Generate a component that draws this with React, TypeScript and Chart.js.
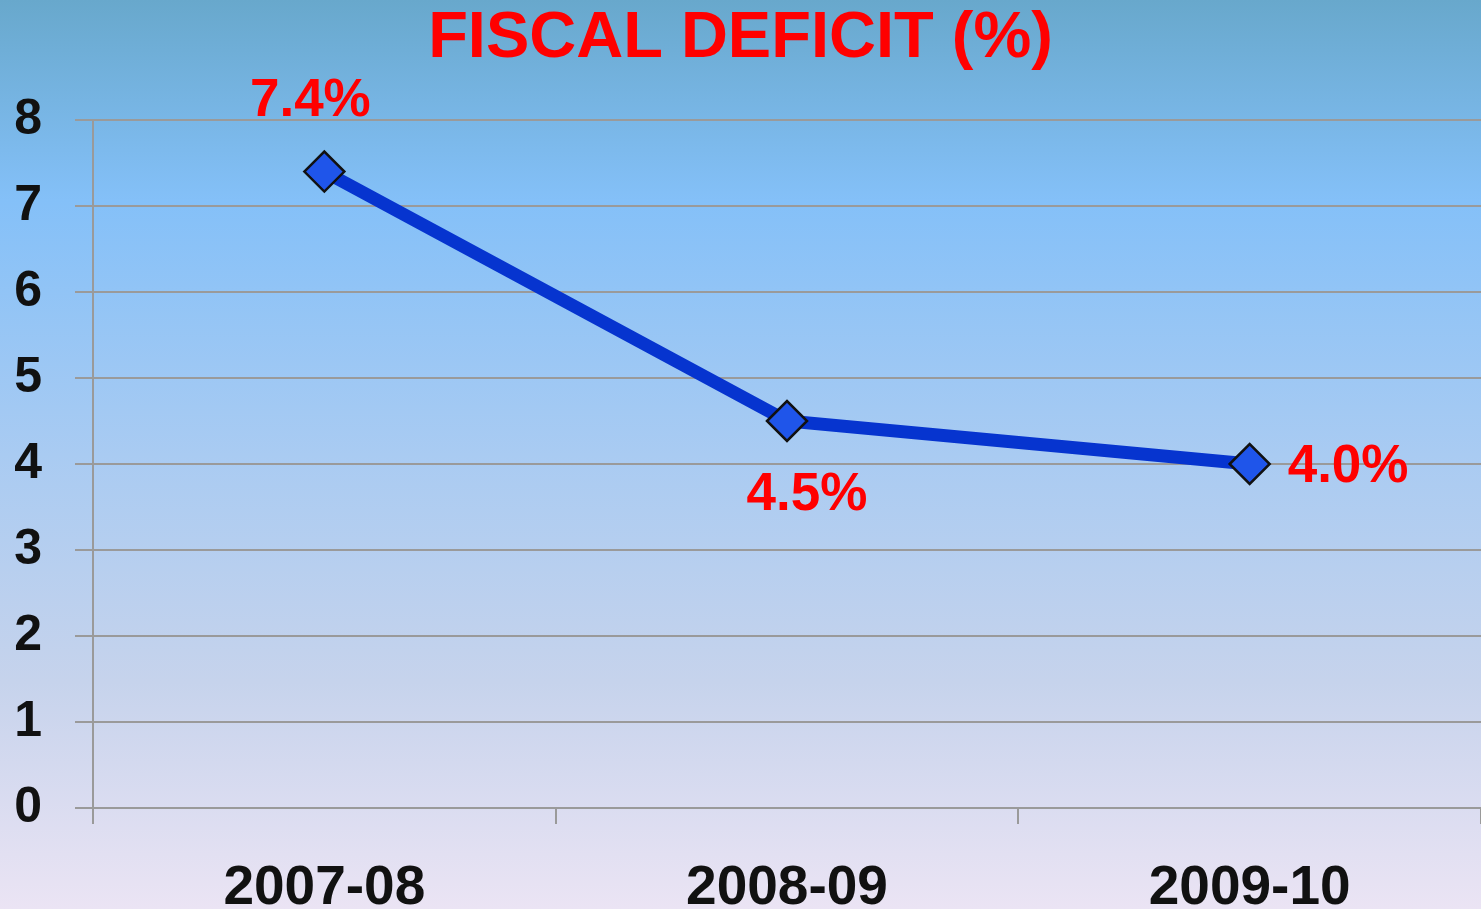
import React, { useEffect, useRef } from 'react';
import { Chart, registerables } from 'chart.js';

Chart.register(...registerables);

const categories: string[] = ['2007-08', '2008-09', '2009-10'];
const deficitValues: number[] = [7.4, 4.5, 4.0];
const deficitLabels: string[] = ['7.4%', '4.5%', '4.0%'];
const labelPlacement: string[] = ['top', 'bottom', 'right'];
const yMin = 0;
const yMax = 8;
const yStep = 1;
const chartTitle = 'FISCAL DEFICIT (%)';

const FONT = '"Liberation Sans", Arial, sans-serif';

const backgroundPlugin = {
  id: 'bgGradient',
  beforeDraw(chart: any) {
    const { ctx, width, height } = chart;
    const g = ctx.createLinearGradient(0, 0, 0, height);
    g.addColorStop(0, '#68a8cc');
    g.addColorStop(0.22, '#84c0f8');
    g.addColorStop(0.5, '#a9cbf2');
    g.addColorStop(0.75, '#c6d3ec');
    g.addColorStop(1, '#ebe4f4');
    ctx.save();
    ctx.fillStyle = g;
    ctx.fillRect(0, 0, width, height);
    ctx.restore();
  },
};

const valueLabelPlugin = {
  id: 'valueLabels',
  afterDatasetsDraw(chart: any) {
    const { ctx } = chart;
    const meta = chart.getDatasetMeta(0);
    ctx.save();
    ctx.font = `bold 53px ${FONT}`;
    ctx.fillStyle = '#ff0000';
    ctx.textBaseline = 'middle';
    meta.data.forEach((pt: any, i: number) => {
      const place = labelPlacement[i];
      const text = deficitLabels[i];
      if (place === 'top') {
        ctx.textAlign = 'center';
        ctx.fillText(text, pt.x - 14, pt.y - 70);
      } else if (place === 'bottom') {
        ctx.textAlign = 'center';
        ctx.fillText(text, pt.x + 20, pt.y + 74);
      } else {
        ctx.textAlign = 'left';
        ctx.fillText(text, pt.x + 38, pt.y + 3);
      }
    });
    ctx.restore();
  },
};

export default function App() {
  const canvasRef = useRef<HTMLCanvasElement | null>(null);

  useEffect(() => {
    document.body.style.margin = '0';
    document.body.style.overflow = 'hidden';
    const canvas = canvasRef.current;
    if (!canvas) return;
    const chart = new Chart(canvas, {
      type: 'line',
      data: {
        labels: categories,
        datasets: [
          {
            data: deficitValues,
            borderColor: '#0634cf',
            borderWidth: 13,
            pointStyle: 'rectRot',
            pointRadius: 20,
            pointBackgroundColor: '#1f55ea',
            pointBorderColor: '#111111',
            pointBorderWidth: 2.5,
            tension: 0,
          },
        ],
      },
      options: {
        animation: false,
        responsive: false,
        maintainAspectRatio: false,
        layout: { autoPadding: false, padding: { left: 0, right: 0, top: 0, bottom: 0 } },
        plugins: {
          legend: { display: false },
          tooltip: { enabled: false },
          title: {
            display: true,
            text: chartTitle,
            color: '#ff0000',
            font: { family: FONT, size: 65, weight: 'bold', lineHeight: 1.1 },
            padding: { top: 3, bottom: 45.5 },
          },
        },
        scales: {
          x: {
            offset: true,
            grid: {
              display: true,
              offset: true,
              drawOnChartArea: false,
              drawTicks: true,
              tickLength: 16,
              color: '#9a9a9a',
              lineWidth: 2,
            },
            border: { display: true, color: '#9a9a9a', width: 2 },
            ticks: {
              color: '#111111',
              padding: 32,
              font: { family: FONT, size: 55, weight: 'bold' },
              maxRotation: 0,
            },
            afterFit(scale: any) {
              scale.height = 101;
            },
          },
          y: {
            min: yMin,
            max: yMax,
            grid: {
              color: '#9a9a9a',
              lineWidth: 2,
              tickLength: 18,
            },
            border: { display: true, color: '#9a9a9a', width: 2 },
            ticks: {
              stepSize: yStep,
              color: '#111111',
              padding: 33,
              font: { family: FONT, size: 50, weight: 'bold' },
            },
            afterFit(scale: any) {
              scale.width = 93;
            },
          },
        },
      },
      plugins: [backgroundPlugin, valueLabelPlugin],
    });
    return () => chart.destroy();
  }, []);

  return (
    <div style={{ width: 1481, height: 909 }}>
      <canvas ref={canvasRef} width={1481} height={909} style={{ display: 'block', width: 1481, height: 909 }} />
    </div>
  );
}
